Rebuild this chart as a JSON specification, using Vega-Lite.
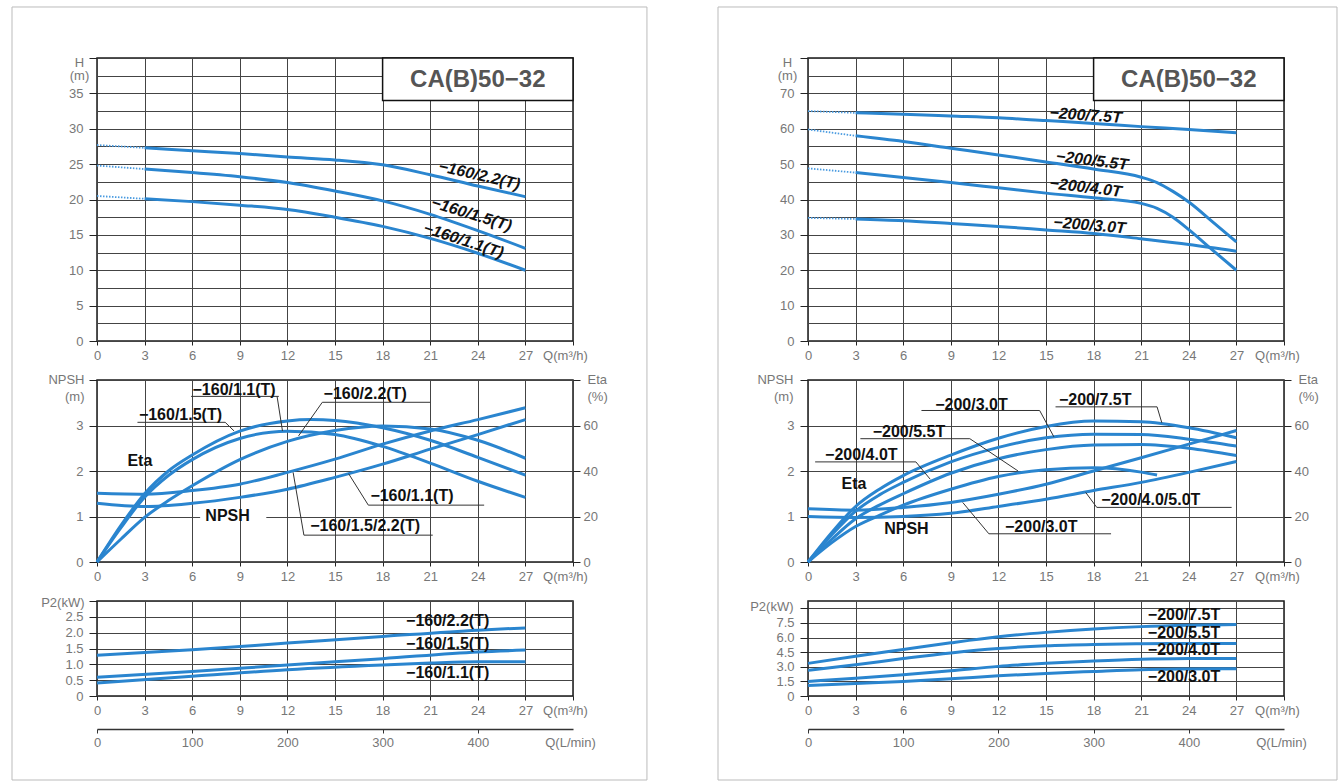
{
"$schema":"https://vega.github.io/schema/vega-lite/v6.json",
"padding":{"left":10,"top":5,"right":0,"bottom":0},
"background":"white",
"config":{
 "font":"Liberation Sans",
 "view":{"stroke":"#1a1a1a","strokeWidth":1.5},
 "axis":{"labelFont":"Liberation Sans","labelFontSize":13,"labelColor":"#777","labelFlush":false,"labelOverlap":false,"tickColor":"#222","tickWidth":1,"gridColor":"#444","gridWidth":1,"domain":false,"titleFont":"Liberation Sans","titleFontSize":13,"titleColor":"#777","titleFontWeight":"normal"},
 "line":{"color":"#2a85cf","strokeWidth":3,"interpolate":"monotone"},
 "text":{"font":"Liberation Sans"}
},
"datasets":{
 "titles":[{"panel":"L","title":"CA(B)50−32"},{"panel":"R","title":"CA(B)50−32"}],
 "head":[
  {"panel":"L","model":"160/2.2","seg":"dot","Q":0,"H":27.7},{"panel":"L","model":"160/2.2","seg":"dot","Q":3,"H":27.3},
  {"panel":"L","model":"160/2.2","seg":"solid","Q":3,"H":27.3},{"panel":"L","model":"160/2.2","seg":"solid","Q":6,"H":26.9},{"panel":"L","model":"160/2.2","seg":"solid","Q":9,"H":26.5},{"panel":"L","model":"160/2.2","seg":"solid","Q":12,"H":26.0},{"panel":"L","model":"160/2.2","seg":"solid","Q":15,"H":25.6},{"panel":"L","model":"160/2.2","seg":"solid","Q":18,"H":24.9},{"panel":"L","model":"160/2.2","seg":"solid","Q":21,"H":23.5},{"panel":"L","model":"160/2.2","seg":"solid","Q":24,"H":21.9},{"panel":"L","model":"160/2.2","seg":"solid","Q":27,"H":20.4},
  {"panel":"L","model":"160/1.5","seg":"dot","Q":0,"H":24.8},{"panel":"L","model":"160/1.5","seg":"dot","Q":3,"H":24.3},
  {"panel":"L","model":"160/1.5","seg":"solid","Q":3,"H":24.3},{"panel":"L","model":"160/1.5","seg":"solid","Q":6,"H":23.8},{"panel":"L","model":"160/1.5","seg":"solid","Q":9,"H":23.2},{"panel":"L","model":"160/1.5","seg":"solid","Q":12,"H":22.4},{"panel":"L","model":"160/1.5","seg":"solid","Q":15,"H":21.2},{"panel":"L","model":"160/1.5","seg":"solid","Q":18,"H":19.8},{"panel":"L","model":"160/1.5","seg":"solid","Q":21,"H":17.9},{"panel":"L","model":"160/1.5","seg":"solid","Q":24,"H":15.6},{"panel":"L","model":"160/1.5","seg":"solid","Q":27,"H":13.1},
  {"panel":"L","model":"160/1.1","seg":"dot","Q":0,"H":20.5},{"panel":"L","model":"160/1.1","seg":"dot","Q":3,"H":20.1},
  {"panel":"L","model":"160/1.1","seg":"solid","Q":3,"H":20.1},{"panel":"L","model":"160/1.1","seg":"solid","Q":6,"H":19.7},{"panel":"L","model":"160/1.1","seg":"solid","Q":9,"H":19.2},{"panel":"L","model":"160/1.1","seg":"solid","Q":12,"H":18.6},{"panel":"L","model":"160/1.1","seg":"solid","Q":15,"H":17.5},{"panel":"L","model":"160/1.1","seg":"solid","Q":18,"H":16.2},{"panel":"L","model":"160/1.1","seg":"solid","Q":21,"H":14.5},{"panel":"L","model":"160/1.1","seg":"solid","Q":24,"H":12.4},{"panel":"L","model":"160/1.1","seg":"solid","Q":27,"H":10.0},
  {"panel":"R","model":"200/7.5T","seg":"dot","Q":0,"H":65},{"panel":"R","model":"200/7.5T","seg":"dot","Q":3,"H":64.5},
  {"panel":"R","model":"200/7.5T","seg":"solid","Q":3,"H":64.5},{"panel":"R","model":"200/7.5T","seg":"solid","Q":6,"H":64.1},{"panel":"R","model":"200/7.5T","seg":"solid","Q":9,"H":63.6},{"panel":"R","model":"200/7.5T","seg":"solid","Q":12,"H":63.1},{"panel":"R","model":"200/7.5T","seg":"solid","Q":15,"H":62.3},{"panel":"R","model":"200/7.5T","seg":"solid","Q":18,"H":61.5},{"panel":"R","model":"200/7.5T","seg":"solid","Q":21,"H":60.6},{"panel":"R","model":"200/7.5T","seg":"solid","Q":24,"H":59.8},{"panel":"R","model":"200/7.5T","seg":"solid","Q":27,"H":58.9},
  {"panel":"R","model":"200/5.5T","seg":"dot","Q":0,"H":59.8},{"panel":"R","model":"200/5.5T","seg":"dot","Q":3,"H":58},
  {"panel":"R","model":"200/5.5T","seg":"solid","Q":3,"H":58},{"panel":"R","model":"200/5.5T","seg":"solid","Q":6,"H":56.4},{"panel":"R","model":"200/5.5T","seg":"solid","Q":9,"H":54.5},{"panel":"R","model":"200/5.5T","seg":"solid","Q":12,"H":52.6},{"panel":"R","model":"200/5.5T","seg":"solid","Q":15,"H":50.6},{"panel":"R","model":"200/5.5T","seg":"solid","Q":18,"H":48.6},{"panel":"R","model":"200/5.5T","seg":"solid","Q":21,"H":46.3},{"panel":"R","model":"200/5.5T","seg":"solid","Q":22,"H":44.8},{"panel":"R","model":"200/5.5T","seg":"solid","Q":23,"H":42.3},{"panel":"R","model":"200/5.5T","seg":"solid","Q":24,"H":39.3},{"panel":"R","model":"200/5.5T","seg":"solid","Q":25.5,"H":33.7},{"panel":"R","model":"200/5.5T","seg":"solid","Q":27,"H":28},
  {"panel":"R","model":"200/4.0T","seg":"dot","Q":0,"H":48.8},{"panel":"R","model":"200/4.0T","seg":"dot","Q":3,"H":47.6},
  {"panel":"R","model":"200/4.0T","seg":"solid","Q":3,"H":47.6},{"panel":"R","model":"200/4.0T","seg":"solid","Q":6,"H":46.2},{"panel":"R","model":"200/4.0T","seg":"solid","Q":9,"H":44.8},{"panel":"R","model":"200/4.0T","seg":"solid","Q":12,"H":43.3},{"panel":"R","model":"200/4.0T","seg":"solid","Q":15,"H":41.8},{"panel":"R","model":"200/4.0T","seg":"solid","Q":18,"H":40.5},{"panel":"R","model":"200/4.0T","seg":"solid","Q":21,"H":38.9},{"panel":"R","model":"200/4.0T","seg":"solid","Q":22,"H":37.5},{"panel":"R","model":"200/4.0T","seg":"solid","Q":23,"H":35},{"panel":"R","model":"200/4.0T","seg":"solid","Q":24,"H":31.5},{"panel":"R","model":"200/4.0T","seg":"solid","Q":25.5,"H":25.7},{"panel":"R","model":"200/4.0T","seg":"solid","Q":27,"H":20},
  {"panel":"R","model":"200/3.0T","seg":"dot","Q":0,"H":34.8},{"panel":"R","model":"200/3.0T","seg":"dot","Q":3,"H":34.5},
  {"panel":"R","model":"200/3.0T","seg":"solid","Q":3,"H":34.5},{"panel":"R","model":"200/3.0T","seg":"solid","Q":6,"H":34},{"panel":"R","model":"200/3.0T","seg":"solid","Q":9,"H":33.2},{"panel":"R","model":"200/3.0T","seg":"solid","Q":12,"H":32.4},{"panel":"R","model":"200/3.0T","seg":"solid","Q":15,"H":31.4},{"panel":"R","model":"200/3.0T","seg":"solid","Q":18,"H":30.4},{"panel":"R","model":"200/3.0T","seg":"solid","Q":21,"H":28.9},{"panel":"R","model":"200/3.0T","seg":"solid","Q":24,"H":27.3},{"panel":"R","model":"200/3.0T","seg":"solid","Q":27,"H":25.4}
 ],
 "hlab":[
  {"id":"L22","text":"−160/2.2(T)","Q":24.1,"H":23.4},
  {"id":"L15","text":"−160/1.5(T)","Q":23.6,"H":17.9},
  {"id":"L11","text":"−160/1.1(T)","Q":23.1,"H":14.2},
  {"id":"R75","text":"−200/7.5T","Q":17.5,"H":63.8},
  {"id":"R55","text":"−200/5.5T","Q":17.9,"H":51.0},
  {"id":"R40","text":"−200/4.0T","Q":17.5,"H":43.4},
  {"id":"R30","text":"−200/3.0T","Q":17.75,"H":32.7}
 ],
 "npsh":[
  {"panel":"L","model":"160/1.5/2.2","Q":0,"NPSH":1.51},{"panel":"L","model":"160/1.5/2.2","Q":3,"NPSH":1.49},{"panel":"L","model":"160/1.5/2.2","Q":6,"NPSH":1.57},{"panel":"L","model":"160/1.5/2.2","Q":9,"NPSH":1.71},{"panel":"L","model":"160/1.5/2.2","Q":12,"NPSH":1.97},{"panel":"L","model":"160/1.5/2.2","Q":15,"NPSH":2.26},{"panel":"L","model":"160/1.5/2.2","Q":18,"NPSH":2.59},{"panel":"L","model":"160/1.5/2.2","Q":21,"NPSH":2.88},{"panel":"L","model":"160/1.5/2.2","Q":24,"NPSH":3.13},{"panel":"L","model":"160/1.5/2.2","Q":27,"NPSH":3.39},
  {"panel":"L","model":"160/1.1","Q":0,"NPSH":1.29},{"panel":"L","model":"160/1.1","Q":3,"NPSH":1.22},{"panel":"L","model":"160/1.1","Q":6,"NPSH":1.29},{"panel":"L","model":"160/1.1","Q":9,"NPSH":1.42},{"panel":"L","model":"160/1.1","Q":12,"NPSH":1.6},{"panel":"L","model":"160/1.1","Q":15,"NPSH":1.86},{"panel":"L","model":"160/1.1","Q":18,"NPSH":2.15},{"panel":"L","model":"160/1.1","Q":21,"NPSH":2.48},{"panel":"L","model":"160/1.1","Q":24,"NPSH":2.8},{"panel":"L","model":"160/1.1","Q":27,"NPSH":3.13},
  {"panel":"R","model":"200/3.0T","Q":0,"NPSH":1.17},{"panel":"R","model":"200/3.0T","Q":3,"NPSH":1.14},{"panel":"R","model":"200/3.0T","Q":6,"NPSH":1.2},{"panel":"R","model":"200/3.0T","Q":9,"NPSH":1.31},{"panel":"R","model":"200/3.0T","Q":12,"NPSH":1.49},{"panel":"R","model":"200/3.0T","Q":15,"NPSH":1.71},{"panel":"R","model":"200/3.0T","Q":18,"NPSH":2.0},{"panel":"R","model":"200/3.0T","Q":21,"NPSH":2.29},{"panel":"R","model":"200/3.0T","Q":24,"NPSH":2.59},{"panel":"R","model":"200/3.0T","Q":27,"NPSH":2.89},
  {"panel":"R","model":"200/4.0/5.0T","Q":0,"NPSH":1.0},{"panel":"R","model":"200/4.0/5.0T","Q":3,"NPSH":0.98},{"panel":"R","model":"200/4.0/5.0T","Q":6,"NPSH":1.0},{"panel":"R","model":"200/4.0/5.0T","Q":9,"NPSH":1.07},{"panel":"R","model":"200/4.0/5.0T","Q":12,"NPSH":1.22},{"panel":"R","model":"200/4.0/5.0T","Q":15,"NPSH":1.38},{"panel":"R","model":"200/4.0/5.0T","Q":18,"NPSH":1.57},{"panel":"R","model":"200/4.0/5.0T","Q":21,"NPSH":1.75},{"panel":"R","model":"200/4.0/5.0T","Q":24,"NPSH":1.97},{"panel":"R","model":"200/4.0/5.0T","Q":27,"NPSH":2.21}
 ],
 "eta":[
  {"panel":"L","model":"160/1.5","Q":0,"Eta":0},{"panel":"L","model":"160/1.5","Q":1.5,"Eta":16},{"panel":"L","model":"160/1.5","Q":3,"Eta":30},{"panel":"L","model":"160/1.5","Q":4.5,"Eta":40},{"panel":"L","model":"160/1.5","Q":6,"Eta":47},{"panel":"L","model":"160/1.5","Q":9,"Eta":57.5},{"panel":"L","model":"160/1.5","Q":12,"Eta":62},{"panel":"L","model":"160/1.5","Q":13.5,"Eta":62.6},{"panel":"L","model":"160/1.5","Q":15,"Eta":62.2},{"panel":"L","model":"160/1.5","Q":18,"Eta":59},{"panel":"L","model":"160/1.5","Q":21,"Eta":53.5},{"panel":"L","model":"160/1.5","Q":24,"Eta":46},{"panel":"L","model":"160/1.5","Q":27,"Eta":38.2},
  {"panel":"L","model":"160/1.1","Q":0,"Eta":0},{"panel":"L","model":"160/1.1","Q":1.5,"Eta":15},{"panel":"L","model":"160/1.1","Q":3,"Eta":28.5},{"panel":"L","model":"160/1.1","Q":4.5,"Eta":38},{"panel":"L","model":"160/1.1","Q":6,"Eta":45},{"panel":"L","model":"160/1.1","Q":9,"Eta":54.3},{"panel":"L","model":"160/1.1","Q":12,"Eta":57.5},{"panel":"L","model":"160/1.1","Q":15,"Eta":56},{"panel":"L","model":"160/1.1","Q":18,"Eta":50.8},{"panel":"L","model":"160/1.1","Q":21,"Eta":43.5},{"panel":"L","model":"160/1.1","Q":24,"Eta":35.5},{"panel":"L","model":"160/1.1","Q":27,"Eta":28.4},
  {"panel":"L","model":"160/2.2","Q":0,"Eta":0},{"panel":"L","model":"160/2.2","Q":1.5,"Eta":10},{"panel":"L","model":"160/2.2","Q":3,"Eta":19.6},{"panel":"L","model":"160/2.2","Q":4.5,"Eta":27},{"panel":"L","model":"160/2.2","Q":6,"Eta":33.5},{"panel":"L","model":"160/2.2","Q":9,"Eta":45},{"panel":"L","model":"160/2.2","Q":12,"Eta":53},{"panel":"L","model":"160/2.2","Q":15,"Eta":57.8},{"panel":"L","model":"160/2.2","Q":18,"Eta":59.8},{"panel":"L","model":"160/2.2","Q":21,"Eta":58.5},{"panel":"L","model":"160/2.2","Q":24,"Eta":53.5},{"panel":"L","model":"160/2.2","Q":27,"Eta":45.6},
  {"panel":"R","model":"200/7.5T","Q":0,"Eta":0},{"panel":"R","model":"200/7.5T","Q":1.5,"Eta":13},{"panel":"R","model":"200/7.5T","Q":3,"Eta":24.4},{"panel":"R","model":"200/7.5T","Q":4.5,"Eta":32},{"panel":"R","model":"200/7.5T","Q":6,"Eta":38},{"panel":"R","model":"200/7.5T","Q":9,"Eta":47},{"panel":"R","model":"200/7.5T","Q":12,"Eta":54.4},{"panel":"R","model":"200/7.5T","Q":15,"Eta":59.6},{"panel":"R","model":"200/7.5T","Q":18,"Eta":62},{"panel":"R","model":"200/7.5T","Q":21,"Eta":61.6},{"panel":"R","model":"200/7.5T","Q":24,"Eta":59},{"panel":"R","model":"200/7.5T","Q":27,"Eta":54.6},
  {"panel":"R","model":"200/3.0T","Q":0,"Eta":0},{"panel":"R","model":"200/3.0T","Q":1.5,"Eta":12},{"panel":"R","model":"200/3.0T","Q":3,"Eta":22.4},{"panel":"R","model":"200/3.0T","Q":4.5,"Eta":29.5},{"panel":"R","model":"200/3.0T","Q":6,"Eta":35},{"panel":"R","model":"200/3.0T","Q":9,"Eta":44},{"panel":"R","model":"200/3.0T","Q":12,"Eta":50.4},{"panel":"R","model":"200/3.0T","Q":15,"Eta":54.6},{"panel":"R","model":"200/3.0T","Q":18,"Eta":56.2},{"panel":"R","model":"200/3.0T","Q":21,"Eta":56},{"panel":"R","model":"200/3.0T","Q":24,"Eta":54},{"panel":"R","model":"200/3.0T","Q":27,"Eta":51},
  {"panel":"R","model":"200/4.0T","Q":0,"Eta":0},{"panel":"R","model":"200/4.0T","Q":1.5,"Eta":10},{"panel":"R","model":"200/4.0T","Q":3,"Eta":19},{"panel":"R","model":"200/4.0T","Q":4.5,"Eta":25},{"panel":"R","model":"200/4.0T","Q":6,"Eta":30},{"panel":"R","model":"200/4.0T","Q":9,"Eta":39},{"panel":"R","model":"200/4.0T","Q":12,"Eta":45.4},{"panel":"R","model":"200/4.0T","Q":15,"Eta":49.4},{"panel":"R","model":"200/4.0T","Q":18,"Eta":51.4},{"panel":"R","model":"200/4.0T","Q":21,"Eta":51.6},{"panel":"R","model":"200/4.0T","Q":24,"Eta":50},{"panel":"R","model":"200/4.0T","Q":27,"Eta":46.8},
  {"panel":"R","model":"200/5.5T","Q":0,"Eta":0},{"panel":"R","model":"200/5.5T","Q":1.5,"Eta":8.5},{"panel":"R","model":"200/5.5T","Q":3,"Eta":15.6},{"panel":"R","model":"200/5.5T","Q":4.5,"Eta":20.5},{"panel":"R","model":"200/5.5T","Q":6,"Eta":25},{"panel":"R","model":"200/5.5T","Q":9,"Eta":32},{"panel":"R","model":"200/5.5T","Q":12,"Eta":37.6},{"panel":"R","model":"200/5.5T","Q":15,"Eta":40.6},{"panel":"R","model":"200/5.5T","Q":18,"Eta":41.4},{"panel":"R","model":"200/5.5T","Q":21,"Eta":39.5},{"panel":"R","model":"200/5.5T","Q":22,"Eta":38.2}
 ],
 "nlab":[
  {"panel":"L","text":"−160/1.1(T)","Q":8.64,"v":3.77},
  {"panel":"L","text":"−160/2.2(T)","Q":16.9,"v":3.69},
  {"panel":"L","text":"−160/1.5(T)","Q":5.26,"v":3.24},
  {"panel":"L","text":"Eta","Q":2.7,"v":2.22},
  {"panel":"L","text":"−160/1.1(T)","Q":19.85,"v":1.46},
  {"panel":"L","text":"NPSH","Q":8.23,"v":1.02},
  {"panel":"L","text":"−160/1.5/2.2(T)","Q":16.9,"v":0.79},
  {"panel":"R","text":"−200/3.0T","Q":10.3,"v":3.46},
  {"panel":"R","text":"−200/7.5T","Q":18.1,"v":3.55},
  {"panel":"R","text":"−200/5.5T","Q":6.36,"v":2.86},
  {"panel":"R","text":"−200/4.0T","Q":3.36,"v":2.35},
  {"panel":"R","text":"Eta","Q":2.9,"v":1.71},
  {"panel":"R","text":"−200/4.0/5.0T","Q":21.6,"v":1.37},
  {"panel":"R","text":"NPSH","Q":6.2,"v":0.73},
  {"panel":"R","text":"−200/3.0T","Q":14.7,"v":0.76}
 ],
 "segs":[
  {"panel":"L","Q":5.93,"v":3.64,"Q2":11.46,"v2":3.64},{"panel":"L","Q":11.35,"v":3.64,"Q2":11.69,"v2":2.88},
  {"panel":"L","Q":14.2,"v":3.51,"Q2":21.0,"v2":3.51},{"panel":"L","Q":14.2,"v":3.51,"Q2":12.7,"v2":2.77},
  {"panel":"L","Q":2.55,"v":3.07,"Q2":8.08,"v2":3.07},{"panel":"L","Q":8.08,"v":3.07,"Q2":8.64,"v2":2.88},
  {"panel":"L","Q":17.1,"v":1.25,"Q2":24.4,"v2":1.25},{"panel":"L","Q":17.1,"v":1.25,"Q2":15.86,"v2":1.94},
  {"panel":"L","Q":13.04,"v":0.59,"Q2":21.16,"v2":0.59},{"panel":"L","Q":13.04,"v":0.59,"Q2":12.36,"v2":1.97},
  {"panel":"R","Q":7.15,"v":3.33,"Q2":14.6,"v2":3.33},{"panel":"R","Q":14.6,"v":3.33,"Q2":15.5,"v2":2.75},
  {"panel":"R","Q":15.6,"v":3.41,"Q2":22.0,"v2":3.41},{"panel":"R","Q":22.0,"v":3.41,"Q2":22.3,"v2":3.06},
  {"panel":"R","Q":3.3,"v":2.71,"Q2":10.2,"v2":2.71},{"panel":"R","Q":10.2,"v":2.71,"Q2":13.24,"v2":2.0},
  {"panel":"R","Q":0.45,"v":2.2,"Q2":6.8,"v2":2.2},{"panel":"R","Q":6.8,"v":2.2,"Q2":7.7,"v2":1.82},
  {"panel":"R","Q":18.2,"v":1.2,"Q2":26.7,"v2":1.2},{"panel":"R","Q":18.2,"v":1.2,"Q2":17.5,"v2":1.53},
  {"panel":"R","Q":11.4,"v":0.62,"Q2":19.1,"v2":0.62},{"panel":"R","Q":11.4,"v":0.62,"Q2":9.75,"v2":1.31}
 ],
 "p2":[
  {"panel":"L","model":"160/2.2","Q":0,"P2":1.29},{"panel":"L","model":"160/2.2","Q":6,"P2":1.46},{"panel":"L","model":"160/2.2","Q":12,"P2":1.67},{"panel":"L","model":"160/2.2","Q":18,"P2":1.88},{"panel":"L","model":"160/2.2","Q":24,"P2":2.08},{"panel":"L","model":"160/2.2","Q":27,"P2":2.15},
  {"panel":"L","model":"160/1.5","Q":0,"P2":0.59},{"panel":"L","model":"160/1.5","Q":6,"P2":0.77},{"panel":"L","model":"160/1.5","Q":12,"P2":0.98},{"panel":"L","model":"160/1.5","Q":18,"P2":1.18},{"panel":"L","model":"160/1.5","Q":24,"P2":1.39},{"panel":"L","model":"160/1.5","Q":27,"P2":1.45},
  {"panel":"L","model":"160/1.1","Q":0,"P2":0.41},{"panel":"L","model":"160/1.1","Q":6,"P2":0.62},{"panel":"L","model":"160/1.1","Q":12,"P2":0.83},{"panel":"L","model":"160/1.1","Q":18,"P2":0.98},{"panel":"L","model":"160/1.1","Q":21,"P2":1.04},{"panel":"L","model":"160/1.1","Q":24,"P2":1.08},{"panel":"L","model":"160/1.1","Q":27,"P2":1.08},
  {"panel":"R","model":"200/7.5T","Q":0,"P2":3.35},{"panel":"R","model":"200/7.5T","Q":3,"P2":4.08},{"panel":"R","model":"200/7.5T","Q":6,"P2":4.77},{"panel":"R","model":"200/7.5T","Q":9,"P2":5.46},{"panel":"R","model":"200/7.5T","Q":12,"P2":6.08},{"panel":"R","model":"200/7.5T","Q":15,"P2":6.53},{"panel":"R","model":"200/7.5T","Q":18,"P2":6.88},{"panel":"R","model":"200/7.5T","Q":21,"P2":7.12},{"panel":"R","model":"200/7.5T","Q":24,"P2":7.26},{"panel":"R","model":"200/7.5T","Q":27,"P2":7.33},
  {"panel":"R","model":"200/5.5T","Q":0,"P2":2.63},{"panel":"R","model":"200/5.5T","Q":3,"P2":3.21},{"panel":"R","model":"200/5.5T","Q":6,"P2":3.84},{"panel":"R","model":"200/5.5T","Q":9,"P2":4.42},{"panel":"R","model":"200/5.5T","Q":12,"P2":4.87},{"panel":"R","model":"200/5.5T","Q":15,"P2":5.15},{"panel":"R","model":"200/5.5T","Q":18,"P2":5.29},{"panel":"R","model":"200/5.5T","Q":21,"P2":5.36},{"panel":"R","model":"200/5.5T","Q":24,"P2":5.38},{"panel":"R","model":"200/5.5T","Q":27,"P2":5.38},
  {"panel":"R","model":"200/4.0T","Q":0,"P2":1.49},{"panel":"R","model":"200/4.0T","Q":3,"P2":1.83},{"panel":"R","model":"200/4.0T","Q":6,"P2":2.18},{"panel":"R","model":"200/4.0T","Q":9,"P2":2.59},{"panel":"R","model":"200/4.0T","Q":12,"P2":3.04},{"panel":"R","model":"200/4.0T","Q":15,"P2":3.35},{"panel":"R","model":"200/4.0T","Q":18,"P2":3.59},{"panel":"R","model":"200/4.0T","Q":21,"P2":3.77},{"panel":"R","model":"200/4.0T","Q":24,"P2":3.84},{"panel":"R","model":"200/4.0T","Q":27,"P2":3.86},
  {"panel":"R","model":"200/3.0T","Q":0,"P2":1.07},{"panel":"R","model":"200/3.0T","Q":3,"P2":1.28},{"panel":"R","model":"200/3.0T","Q":6,"P2":1.49},{"panel":"R","model":"200/3.0T","Q":9,"P2":1.76},{"panel":"R","model":"200/3.0T","Q":12,"P2":2.07},{"panel":"R","model":"200/3.0T","Q":15,"P2":2.32},{"panel":"R","model":"200/3.0T","Q":18,"P2":2.52},{"panel":"R","model":"200/3.0T","Q":21,"P2":2.7},{"panel":"R","model":"200/3.0T","Q":24,"P2":2.77},{"panel":"R","model":"200/3.0T","Q":27,"P2":2.8}
 ],
 "plab":[
  {"panel":"L","text":"−160/2.2(T)","Q":22.1,"v":2.37},
  {"panel":"L","text":"−160/1.5(T)","Q":22.1,"v":1.65},
  {"panel":"L","text":"−160/1.1(T)","Q":22.1,"v":0.72},
  {"panel":"R","text":"−200/7.5T","Q":23.7,"v":8.3},
  {"panel":"R","text":"−200/5.5T","Q":23.7,"v":6.45},
  {"panel":"R","text":"−200/4.0T","Q":23.7,"v":4.75},
  {"panel":"R","text":"−200/3.0T","Q":23.7,"v":1.95}
 ]
},
"columns":2,
"spacing":{"row":39,"column":235},
"bounds":"flush",
"align":"each",
"concat":[
 {
  "width":476,"height":283,
  "layer":[
   {"data":{"name":"head"},"transform":[{"filter":"datum.panel === 'L' && datum.seg === 'solid'"}],
    "mark":{"type":"line"},
    "encoding":{
     "x":{"field":"Q","type":"quantitative","scale":{"domain":[0,30],"nice":false},"axis":{"orient":"bottom","tickCount":100,"format":"d","values":[0,3,6,9,12,15,18,21,24,27,30],"grid":true,"tickSize":4,"labelPadding":4,"labelExpr":"datum.value >= 30 ? '' : datum.label","title":"Q(m³/h)","titleX":468,"titleY":8,"titleBaseline":"top","titleAlign":"center"}},
     "y":{"field":"H","type":"quantitative","scale":{"domain":[0,40],"nice":false},"axis":{"orient":"left","tickCount":100,"format":"d","values":[0,2.5,5,7.5,10,12.5,15,17.5,20,22.5,25,27.5,30,32.5,35,37.5,40],"grid":true,"tickSize":8,"labelPadding":6,"labelExpr":"datum.value % 5 === 0 && datum.value < 40 ? datum.label : ''","tickOpacity":{"condition":{"test":"datum.value % 5 !== 0","value":0},"value":1},"title":["H","(m)"],"titleAngle":0,"titleAlign":"center","titleBaseline":"top","titleX":-18,"titleY":-2,"titleLineHeight":13}},
     "detail":{"field":"model","type":"nominal"}}},
   {"data":{"name":"head"},"transform":[{"filter":"datum.panel === 'L' && datum.seg === 'dot'"}],
    "mark":{"type":"line","strokeWidth":1.8,"strokeDash":[1.5,1.5],"color":"#4a9be0","interpolate":"linear"},
    "encoding":{"x":{"field":"Q","type":"quantitative","scale":{"domain":[0,30],"nice":false}},"y":{"field":"H","type":"quantitative","scale":{"domain":[0,40],"nice":false}},"detail":{"field":"model","type":"nominal"}}},
   {"data":{"name":"hlab"},"transform":[{"filter":"datum.id === 'L22'"}],"mark":{"type":"text","angle":13,"fontSize":16,"fontWeight":"bold","fontStyle":"italic","color":"#111"},"encoding":{"x":{"field":"Q","type":"quantitative"},"y":{"field":"H","type":"quantitative"},"text":{"field":"text","type":"nominal"}}},
   {"data":{"name":"hlab"},"transform":[{"filter":"datum.id === 'L15'"}],"mark":{"type":"text","angle":17,"fontSize":16,"fontWeight":"bold","fontStyle":"italic","color":"#111"},"encoding":{"x":{"field":"Q","type":"quantitative"},"y":{"field":"H","type":"quantitative"},"text":{"field":"text","type":"nominal"}}},
   {"data":{"name":"hlab"},"transform":[{"filter":"datum.id === 'L11'"}],"mark":{"type":"text","angle":18,"fontSize":16,"fontWeight":"bold","fontStyle":"italic","color":"#111"},"encoding":{"x":{"field":"Q","type":"quantitative"},"y":{"field":"H","type":"quantitative"},"text":{"field":"text","type":"nominal"}}},
   {"data":{"name":"titles"},"transform":[{"filter":"datum.panel === 'L'"}],"mark":{"type":"rect","fill":"white","stroke":"#111","strokeWidth":1.5},"encoding":{"x":{"datum":18,"type":"quantitative"},"x2":{"datum":30},"y":{"datum":34,"type":"quantitative"},"y2":{"datum":40}}},
   {"data":{"name":"titles"},"transform":[{"filter":"datum.panel === 'L'"}],"mark":{"type":"text","fontSize":24,"fontWeight":"bold","color":"#555"},"encoding":{"x":{"datum":24,"type":"quantitative"},"y":{"datum":36.85,"type":"quantitative"},"text":{"field":"title","type":"nominal"}}},
   {"data":{"values":[{}]},"mark":{"type":"rect","filled":false,"stroke":"#bbb","strokeWidth":1},"encoding":{"x":{"datum":-5.357,"type":"quantitative"},"x2":{"datum":34.66},"y":{"datum":47.21,"type":"quantitative"},"y2":{"datum":-62.05}}}
  ]
 },
 {
  "width":476,"height":283,
  "layer":[
   {"data":{"name":"head"},"transform":[{"filter":"datum.panel === 'R' && datum.seg === 'solid'"}],
    "mark":{"type":"line"},
    "encoding":{
     "x":{"field":"Q","type":"quantitative","scale":{"domain":[0,30],"nice":false},"axis":{"orient":"bottom","tickCount":100,"format":"d","values":[0,3,6,9,12,15,18,21,24,27,30],"grid":true,"tickSize":4,"labelPadding":4,"labelExpr":"datum.value >= 30 ? '' : datum.label","title":"Q(m³/h)","titleX":469,"titleY":8,"titleBaseline":"top","titleAlign":"center"}},
     "y":{"field":"H","type":"quantitative","scale":{"domain":[0,80],"nice":false},"axis":{"orient":"left","tickCount":100,"format":"d","values":[0,5,10,15,20,25,30,35,40,45,50,55,60,65,70,75,80],"grid":true,"tickSize":8,"labelPadding":6,"labelExpr":"datum.value % 10 === 0 && datum.value < 80 ? datum.label : ''","tickOpacity":{"condition":{"test":"datum.value % 10 !== 0","value":0},"value":1},"title":["H","(m)"],"titleAngle":0,"titleAlign":"center","titleBaseline":"top","titleX":-21,"titleY":-2,"titleLineHeight":13}},
     "detail":{"field":"model","type":"nominal"}}},
   {"data":{"name":"head"},"transform":[{"filter":"datum.panel === 'R' && datum.seg === 'dot'"}],
    "mark":{"type":"line","strokeWidth":1.8,"strokeDash":[1.5,1.5],"color":"#4a9be0","interpolate":"linear"},
    "encoding":{"x":{"field":"Q","type":"quantitative","scale":{"domain":[0,30],"nice":false}},"y":{"field":"H","type":"quantitative","scale":{"domain":[0,80],"nice":false}},"detail":{"field":"model","type":"nominal"}}},
   {"data":{"name":"hlab"},"transform":[{"filter":"datum.id === 'R75'"}],"mark":{"type":"text","angle":4,"fontSize":16,"fontWeight":"bold","fontStyle":"italic","color":"#111"},"encoding":{"x":{"field":"Q","type":"quantitative"},"y":{"field":"H","type":"quantitative"},"text":{"field":"text","type":"nominal"}}},
   {"data":{"name":"hlab"},"transform":[{"filter":"datum.id === 'R55'"}],"mark":{"type":"text","angle":7,"fontSize":16,"fontWeight":"bold","fontStyle":"italic","color":"#111"},"encoding":{"x":{"field":"Q","type":"quantitative"},"y":{"field":"H","type":"quantitative"},"text":{"field":"text","type":"nominal"}}},
   {"data":{"name":"hlab"},"transform":[{"filter":"datum.id === 'R40'"}],"mark":{"type":"text","angle":7,"fontSize":16,"fontWeight":"bold","fontStyle":"italic","color":"#111"},"encoding":{"x":{"field":"Q","type":"quantitative"},"y":{"field":"H","type":"quantitative"},"text":{"field":"text","type":"nominal"}}},
   {"data":{"name":"hlab"},"transform":[{"filter":"datum.id === 'R30'"}],"mark":{"type":"text","angle":5,"fontSize":16,"fontWeight":"bold","fontStyle":"italic","color":"#111"},"encoding":{"x":{"field":"Q","type":"quantitative"},"y":{"field":"H","type":"quantitative"},"text":{"field":"text","type":"nominal"}}},
   {"data":{"name":"titles"},"transform":[{"filter":"datum.panel === 'R'"}],"mark":{"type":"rect","fill":"white","stroke":"#111","strokeWidth":1.5},"encoding":{"x":{"datum":18,"type":"quantitative"},"x2":{"datum":30},"y":{"datum":68,"type":"quantitative"},"y2":{"datum":80}}},
   {"data":{"name":"titles"},"transform":[{"filter":"datum.panel === 'R'"}],"mark":{"type":"text","fontSize":24,"fontWeight":"bold","color":"#555"},"encoding":{"x":{"datum":24,"type":"quantitative"},"y":{"datum":73.7,"type":"quantitative"},"text":{"field":"title","type":"nominal"}}},
   {"data":{"values":[{}]},"mark":{"type":"rect","filled":false,"stroke":"#bbb","strokeWidth":1},"encoding":{"x":{"datum":-5.672,"type":"quantitative"},"x2":{"datum":33.34},"y":{"datum":94.42,"type":"quantitative"},"y2":{"datum":-124.1}}}
  ]
 },
 {
  "width":476,"height":182,
  "layer":[
   {"data":{"name":"eta"},"transform":[{"filter":"datum.panel === 'L'"}],"mark":{"type":"line"},
    "encoding":{
     "x":{"field":"Q","type":"quantitative","scale":{"domain":[0,30],"nice":false},"axis":{"orient":"bottom","tickCount":100,"format":"d","values":[0,3,6,9,12,15,18,21,24,27,30],"grid":true,"tickSize":4,"labelPadding":4,"labelExpr":"datum.value >= 30 ? '' : datum.label","title":"Q(m³/h)","titleX":468,"titleY":8,"titleBaseline":"top","titleAlign":"center"}},
     "y":{"field":"Eta","type":"quantitative","scale":{"domain":[0,80],"nice":false},"axis":{"orient":"right","tickCount":100,"format":"d","values":[0,20,40,60,80],"grid":false,"tickSize":7,"labelPadding":3,"labelExpr":"datum.value < 80 ? datum.label : ''","title":["Eta","(%)"],"titleAngle":0,"titleAlign":"left","titleBaseline":"top","titleX":14,"titleY":-7,"titleLineHeight":17}},
     "detail":{"field":"model","type":"nominal"}}},
   {"layer":[
     {"data":{"name":"npsh"},"transform":[{"filter":"datum.panel === 'L'"}],"mark":{"type":"line"},
      "encoding":{
       "x":{"field":"Q","type":"quantitative","scale":{"domain":[0,30],"nice":false}},
       "y":{"field":"NPSH","type":"quantitative","scale":{"domain":[0,4],"nice":false},"axis":{"orient":"left","tickCount":100,"format":"d","values":[0,0.5,1,1.5,2,2.5,3,3.5,4],"grid":true,"tickSize":8,"labelPadding":6,"labelExpr":"datum.value % 1 === 0 && datum.value < 4 ? datum.label : ''","tickOpacity":{"condition":{"test":"datum.value % 1 !== 0","value":0},"value":1},"title":["NPSH","(m)"],"titleAngle":0,"titleAlign":"right","titleBaseline":"top","titleX":-13,"titleY":-7,"titleLineHeight":17}},
       "detail":{"field":"model","type":"nominal"}}},
     {"data":{"values":[{}]},"mark":{"type":"rect","fill":"white"},"encoding":{"x":{"datum":6.5,"type":"quantitative"},"x2":{"datum":10.67},"y":{"datum":0.9,"type":"quantitative"},"y2":{"datum":1.1}}},
     {"data":{"name":"segs"},"transform":[{"filter":"datum.panel === 'L'"}],"mark":{"type":"rule","color":"#333","strokeWidth":1},"encoding":{"x":{"field":"Q","type":"quantitative"},"y":{"field":"v","type":"quantitative"},"x2":{"field":"Q2"},"y2":{"field":"v2"}}},
     {"data":{"name":"nlab"},"transform":[{"filter":"datum.panel === 'L'"}],"mark":{"type":"text","fontSize":16,"fontWeight":"bold","color":"#111"},"encoding":{"x":{"field":"Q","type":"quantitative"},"y":{"field":"v","type":"quantitative"},"text":{"field":"text","type":"nominal"}}}
   ]}
  ],
  "resolve":{"scale":{"y":"independent"}}
 },
 {
  "width":476,"height":182,
  "layer":[
   {"data":{"name":"eta"},"transform":[{"filter":"datum.panel === 'R'"}],"mark":{"type":"line"},
    "encoding":{
     "x":{"field":"Q","type":"quantitative","scale":{"domain":[0,30],"nice":false},"axis":{"orient":"bottom","tickCount":100,"format":"d","values":[0,3,6,9,12,15,18,21,24,27,30],"grid":true,"tickSize":4,"labelPadding":4,"labelExpr":"datum.value >= 30 ? '' : datum.label","title":"Q(m³/h)","titleX":469,"titleY":8,"titleBaseline":"top","titleAlign":"center"}},
     "y":{"field":"Eta","type":"quantitative","scale":{"domain":[0,80],"nice":false},"axis":{"orient":"right","tickCount":100,"format":"d","values":[0,20,40,60,80],"grid":false,"tickSize":7,"labelPadding":3,"labelExpr":"datum.value < 80 ? datum.label : ''","title":["Eta","(%)"],"titleAngle":0,"titleAlign":"left","titleBaseline":"top","titleX":14,"titleY":-7,"titleLineHeight":17}},
     "detail":{"field":"model","type":"nominal"}}},
   {"layer":[
     {"data":{"name":"npsh"},"transform":[{"filter":"datum.panel === 'R'"}],"mark":{"type":"line"},
      "encoding":{
       "x":{"field":"Q","type":"quantitative","scale":{"domain":[0,30],"nice":false}},
       "y":{"field":"NPSH","type":"quantitative","scale":{"domain":[0,4],"nice":false},"axis":{"orient":"left","tickCount":100,"format":"d","values":[0,0.5,1,1.5,2,2.5,3,3.5,4],"grid":true,"tickSize":8,"labelPadding":6,"labelExpr":"datum.value % 1 === 0 && datum.value < 4 ? datum.label : ''","tickOpacity":{"condition":{"test":"datum.value % 1 !== 0","value":0},"value":1},"title":["NPSH","(m)"],"titleAngle":0,"titleAlign":"right","titleBaseline":"top","titleX":-15,"titleY":-7,"titleLineHeight":17}},
       "detail":{"field":"model","type":"nominal"}}},
     {"data":{"name":"segs"},"transform":[{"filter":"datum.panel === 'R'"}],"mark":{"type":"rule","color":"#333","strokeWidth":1},"encoding":{"x":{"field":"Q","type":"quantitative"},"y":{"field":"v","type":"quantitative"},"x2":{"field":"Q2"},"y2":{"field":"v2"}}},
     {"data":{"name":"nlab"},"transform":[{"filter":"datum.panel === 'R'"}],"mark":{"type":"text","fontSize":16,"fontWeight":"bold","color":"#111"},"encoding":{"x":{"field":"Q","type":"quantitative"},"y":{"field":"v","type":"quantitative"},"text":{"field":"text","type":"nominal"}}}
   ]}
  ],
  "resolve":{"scale":{"y":"independent"}}
 },
 {
  "width":476,"height":95,
  "layer":[
   {"layer":[
     {"data":{"name":"p2"},"transform":[{"filter":"datum.panel === 'L'"}],"mark":{"type":"line"},
      "encoding":{
       "x":{"field":"Q","type":"quantitative","scale":{"domain":[0,30],"nice":false},"axis":{"orient":"bottom","tickCount":100,"format":"d","values":[0,3,6,9,12,15,18,21,24,27,30],"grid":true,"tickSize":4,"labelPadding":4,"labelExpr":"datum.value >= 30 ? '' : datum.label","title":"Q(m³/h)","titleX":468,"titleY":8,"titleBaseline":"top","titleAlign":"center"}},
       "y":{"field":"P2","type":"quantitative","scale":{"domain":[0,3],"nice":false},"axis":{"orient":"left","tickCount":100,"values":[0,0.5,1,1.5,2,2.5,3],"grid":true,"tickSize":8,"labelPadding":6,"labelExpr":"datum.value >= 3 ? '' : datum.value === 0 ? '0' : format(datum.value, '.1f')","title":"P2(kW)","titleAngle":0,"titleAlign":"right","titleBaseline":"middle","titleX":-13,"titleY":1}},
       "detail":{"field":"model","type":"nominal"}}},
     {"data":{"name":"plab"},"transform":[{"filter":"datum.panel === 'L'"}],"mark":{"type":"text","fontSize":16,"fontWeight":"bold","color":"#111"},"encoding":{"x":{"field":"Q","type":"quantitative"},"y":{"field":"v","type":"quantitative"},"text":{"field":"text","type":"nominal"}}}
   ]},
   {"data":{"values":[{}]},"mark":{"type":"rule","opacity":0},
    "encoding":{"x":{"datum":0,"type":"quantitative","scale":{"domain":[0,500],"nice":false},"axis":{"orient":"bottom","offset":33,"tickCount":100,"format":"d","values":[0,100,200,300,400],"grid":false,"domain":true,"domainColor":"#333","domainWidth":1.5,"tickSize":4,"tickColor":"#333","labelPadding":3,"title":"Q(L/min)","titleX":473,"titleY":7,"titleBaseline":"top","titleAlign":"center"}}}}
  ],
  "resolve":{"scale":{"x":"independent"}}
 },
 {
  "width":476,"height":95,
  "layer":[
   {"layer":[
     {"data":{"name":"p2"},"transform":[{"filter":"datum.panel === 'R'"}],"mark":{"type":"line"},
      "encoding":{
       "x":{"field":"Q","type":"quantitative","scale":{"domain":[0,30],"nice":false},"axis":{"orient":"bottom","tickCount":100,"format":"d","values":[0,3,6,9,12,15,18,21,24,27,30],"grid":true,"tickSize":4,"labelPadding":4,"labelExpr":"datum.value >= 30 ? '' : datum.label","title":"Q(m³/h)","titleX":469,"titleY":8,"titleBaseline":"top","titleAlign":"center"}},
       "y":{"field":"P2","type":"quantitative","scale":{"domain":[0,9.75],"nice":false},"axis":{"orient":"left","tickCount":100,"values":[0,1.5,3,4.5,6,7.5,9],"grid":true,"tickSize":8,"labelPadding":6,"labelExpr":"datum.value >= 9 ? '' : datum.value === 0 ? '0' : format(datum.value, '.1f')","title":"P2(kW)","titleAngle":0,"titleAlign":"right","titleBaseline":"middle","titleX":-15,"titleY":5}},
       "detail":{"field":"model","type":"nominal"}}},
     {"data":{"name":"plab"},"transform":[{"filter":"datum.panel === 'R'"}],"mark":{"type":"text","fontSize":16,"fontWeight":"bold","color":"#111"},"encoding":{"x":{"field":"Q","type":"quantitative"},"y":{"field":"v","type":"quantitative"},"text":{"field":"text","type":"nominal"}}}
   ]},
   {"data":{"values":[{}]},"mark":{"type":"rule","opacity":0},
    "encoding":{"x":{"datum":0,"type":"quantitative","scale":{"domain":[0,500],"nice":false},"axis":{"orient":"bottom","offset":33,"tickCount":100,"format":"d","values":[0,100,200,300,400],"grid":false,"domain":true,"domainColor":"#333","domainWidth":1.5,"tickSize":4,"tickColor":"#333","labelPadding":3,"title":"Q(L/min)","titleX":473,"titleY":7,"titleBaseline":"top","titleAlign":"center"}}}}
  ],
  "resolve":{"scale":{"x":"independent"}}
 }
]
}
